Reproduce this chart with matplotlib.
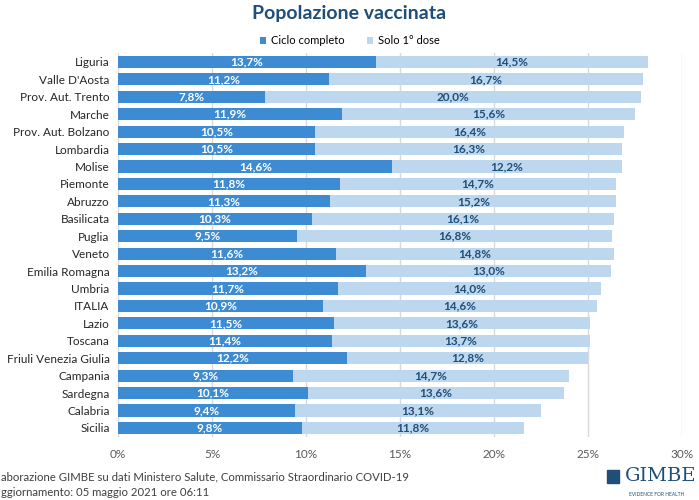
import matplotlib
matplotlib.use("Agg")
import matplotlib.pyplot as plt
import numpy as np

plt.rcParams['font.family'] = ['Lato', 'DejaVu Sans']

regions = ["Liguria", "Valle D'Aosta", "Prov. Aut. Trento", "Marche",
           "Prov. Aut. Bolzano", "Lombardia", "Molise", "Piemonte", "Abruzzo",
           "Basilicata", "Puglia", "Veneto", "Emilia Romagna", "Umbria",
           "ITALIA", "Lazio", "Toscana", "Friuli Venezia Giulia", "Campania",
           "Sardegna", "Calabria", "Sicilia"]
ciclo_completo = [13.7, 11.2, 7.8, 11.9, 10.5, 10.5, 14.6, 11.8, 11.3, 10.3,
                  9.5, 11.6, 13.2, 11.7, 10.9, 11.5, 11.4, 12.2, 9.3, 10.1,
                  9.4, 9.8]
solo_prima = [14.5, 16.7, 20.0, 15.6, 16.4, 16.3, 12.2, 14.7, 15.2, 16.1,
              16.8, 14.8, 13.0, 14.0, 14.6, 13.6, 13.7, 12.8, 14.7, 13.6,
              13.1, 11.8]
xticks = [0, 5, 10, 15, 20, 25, 30]

dark = '#3D8BD3'
light = '#BDD7EE'
navy = '#1F4E79'

fig = plt.figure(figsize=(6.99, 5.0), dpi=100)
ax = fig.add_axes([0.1688, 0.1266, 0.8069, 0.767])

y = np.arange(len(regions))
ax.barh(y, ciclo_completo, height=0.7, color=dark, label='Ciclo completo', zorder=2)
ax.barh(y, solo_prima, left=ciclo_completo, height=0.7, color=light,
        label='Solo 1° dose', zorder=2)

for i in range(len(regions)):
    c = ciclo_completo[i]
    s = solo_prima[i]
    ax.text(c / 2, i, f"{c:.1f}%".replace('.', ','), ha='center', va='center',
            color='white', fontsize=8.5, fontweight='bold', zorder=3)
    ax.text(c + s / 2, i, f"{s:.1f}%".replace('.', ','), ha='center', va='center',
            color=navy, fontsize=8.5, fontweight='bold', zorder=3)

ax.set_xlim(0, 30)
ax.set_ylim(len(regions) - 0.5, -0.5)
ax.set_yticks(y)
ax.set_yticklabels(regions, fontsize=8.5, color='#262626')
ax.set_xticks(xticks)
ax.set_xticklabels([f"{t}%" for t in xticks], fontsize=8.5, color='#595959')
ax.tick_params(length=0, pad=6)
ax.tick_params(axis='x', pad=9)
ax.grid(axis='x', color='#D9D9D9', linewidth=1, zorder=0)
for sp in ax.spines.values():
    sp.set_visible(False)

fig.text(0.5, 0.99, 'Popolazione vaccinata', ha='center', va='top',
         fontsize=14, fontweight='bold', color=navy)
fig.legend(loc='center', bbox_to_anchor=(0.5, 0.918), ncol=2, frameon=False,
           fontsize=8, handlelength=0.6, handleheight=0.6, columnspacing=2.0,
           handletextpad=0.4)

# footer is cropped at the left edge in the original screenshot
fig.text(0.002, 0.046, 'aborazione GIMBE su dati Ministero Salute, Commissario Straordinario COVID-19',
         ha='left', va='center', fontsize=8.2, color='#404040')
fig.text(0.002, 0.014, 'ggiornamento: 05 maggio 2021 ore 06:11',
         ha='left', va='center', fontsize=8.2, color='#404040')

fig.text(0.945, 0.048, 'GIMBE', ha='center', va='center', fontsize=14,
         family='DejaVu Serif', color=navy)
fig.text(0.94, 0.012, 'EVIDENCE FOR HEALTH', ha='center', va='center',
         fontsize=3.5, color=navy)
fig.patches.append(plt.Rectangle((0.868, 0.034), 0.018, 0.026, transform=fig.transFigure,
                                 color=navy, figure=fig))

fig.savefig('out.png', dpi=100)
